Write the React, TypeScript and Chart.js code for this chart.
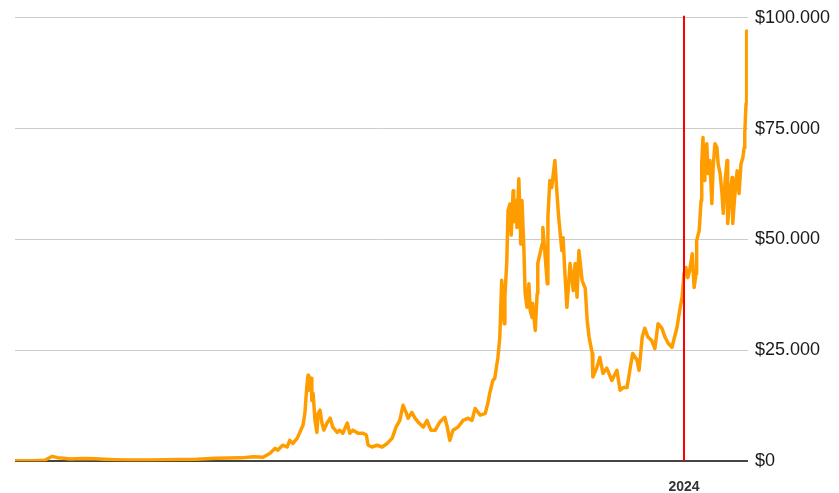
import React, { useEffect, useRef } from "react";
import { Chart, registerables } from "chart.js";

Chart.register(...registerables);

// decimal years
const years: number[] = [
  2013.33, 2013.6, 2013.8, 2013.92, 2014.0, 2014.1, 2014.2, 2014.4, 2014.6, 2014.9,
  2015.1, 2015.5, 2015.9, 2016.2, 2016.5, 2016.9, 2017.1, 2017.25, 2017.36, 2017.44,
  2017.48, 2017.56, 2017.63, 2017.67, 2017.72, 2017.79, 2017.83, 2017.88, 2017.91, 2017.94,
  2017.96, 2017.97, 2018.01, 2018.02, 2018.04, 2018.07, 2018.1, 2018.12, 2018.15, 2018.18,
  2018.21, 2018.26, 2018.31, 2018.35, 2018.42, 2018.46, 2018.51, 2018.58, 2018.62, 2018.67,
  2018.75, 2018.83, 2018.88, 2018.91, 2018.97, 2019.05, 2019.13, 2019.21, 2019.29, 2019.35,
  2019.41, 2019.46, 2019.51, 2019.54, 2019.6, 2019.65, 2019.7, 2019.78, 2019.84, 2019.9,
  2019.97, 2020.04, 2020.12, 2020.16, 2020.2, 2020.25, 2020.33, 2020.41, 2020.49, 2020.55,
  2020.6, 2020.68, 2020.76, 2020.8, 2020.83, 2020.88, 2020.91, 2020.96, 2020.99, 2021.02,
  2021.04, 2021.06, 2021.07, 2021.1, 2021.12, 2021.15, 2021.17, 2021.2, 2021.21, 2021.25,
  2021.26, 2021.29, 2021.31, 2021.32, 2021.34, 2021.37, 2021.39, 2021.42, 2021.45, 2021.47,
  2021.5, 2021.51, 2021.55, 2021.58, 2021.59, 2021.66, 2021.67, 2021.7, 2021.74, 2021.75,
  2021.78, 2021.81, 2021.86, 2021.89, 2021.92, 2021.97, 2021.99, 2022.02, 2022.05, 2022.1,
  2022.15, 2022.18, 2022.21, 2022.24, 2022.29, 2022.34, 2022.37, 2022.4, 2022.45, 2022.46,
  2022.52, 2022.57, 2022.62, 2022.68, 2022.76, 2022.84, 2022.89, 2022.94, 2023.0, 2023.05,
  2023.09, 2023.16, 2023.19, 2023.24, 2023.28, 2023.33, 2023.39, 2023.44, 2023.49, 2023.55,
  2023.6, 2023.65, 2023.71, 2023.79, 2023.84, 2023.87, 2023.9, 2023.93, 2023.96, 2023.99,
  2024.03, 2024.06, 2024.09, 2024.1, 2024.14, 2024.17, 2024.18, 2024.2, 2024.22, 2024.23,
  2024.26, 2024.28, 2024.31, 2024.34, 2024.36, 2024.39, 2024.42, 2024.44, 2024.47, 2024.5,
  2024.52, 2024.55, 2024.58, 2024.59, 2024.63, 2024.66, 2024.67, 2024.7, 2024.74, 2024.77,
  2024.8, 2024.83, 2024.85, 2024.86, 2024.88, 2024.89,
];

// price in US dollars
const prices: number[] = [
  120, 100, 200, 1100, 800, 650, 500, 600, 550, 350,
  250, 270, 400, 420, 650, 750, 1000, 900, 1800, 2900,
  2500, 3600, 3200, 4700, 4000, 5200, 6500, 8100, 10800, 16700,
  19400, 16000, 18700, 13700, 15300, 9200, 6500, 10800, 11500, 8600,
  7000, 8600, 9700, 7700, 6500, 7000, 6300, 8600, 6300, 7000,
  6300, 6300, 5900, 3600, 3200, 3600, 3200, 4000, 5200, 7700,
  9200, 12600, 11000, 9700, 11000, 9700, 8800, 7700, 9200, 7000,
  7000, 8800, 9900, 7700, 4700, 7000, 7700, 9200, 9700, 9200,
  11900, 10400, 10800, 13000, 15300, 18200, 18700, 23400, 28000, 40800,
  34700, 31000, 37000, 45000, 56500, 58000, 51000, 61000, 54000, 58800,
  52700, 63700, 55000, 49000, 58800, 48000, 37800, 34700, 40000, 34000,
  32400, 35600, 29500, 37800, 44600, 49000, 52700, 47500, 40000, 55000,
  63300, 61700, 67800, 61000, 55000, 47500, 50400, 42000, 34700, 44600,
  38500, 44600, 37000, 47500, 40800, 39000, 31800, 28000, 24300, 19000,
  21000, 23400, 19800, 21000, 18200, 20500, 16000, 16600, 16600, 21000,
  24300, 22700, 20500, 28000, 30000, 28000, 27200, 25400, 31000, 30000,
  28000, 26600, 25700, 30200, 34700, 37000, 42300, 43700, 41400, 43000,
  46800, 39200, 42300, 49800, 52000, 58800, 67000, 73000, 63300, 69400,
  71600, 64900, 67800, 58100, 66200, 71600, 70700, 67000, 64900, 60400,
  55900, 63300, 67800, 53600, 60400, 64000, 53600, 59500, 65500, 60400,
  67000, 68500, 70700, 73900, 80600, 97000,
];

const xMin = 2013.33;
const xMax = 2024.91;
const markerYear = 2023.9;
const markerLabel = "2024";
const yMax = 100000;
const yStep = 25000;

const fmt = (v: number) =>
  "$" + String(Math.round(v)).replace(/\B(?=(\d{3})+(?!\d))/g, ".");

const markerPlugin = {
  id: "markerLine",
  afterDatasetsDraw(chart: any) {
    const { ctx, chartArea, scales } = chart;
    const x = Math.round(scales.x.getPixelForValue(markerYear));
    ctx.save();
    ctx.strokeStyle = "#FF0000";
    ctx.lineWidth = 2;
    ctx.beginPath();
    ctx.moveTo(x, chartArea.top - 2);
    ctx.lineTo(x, chartArea.bottom);
    ctx.stroke();
    ctx.restore();
  },
};

export default function App() {
  const ref = useRef<HTMLCanvasElement | null>(null);
  useEffect(() => {
    document.body.style.margin = "0";
    if (!ref.current) return;
    const data = years.map((y, i) => ({ x: y, y: prices[i] }));
    const chart = new Chart(ref.current, {
      type: "line",
      data: {
        datasets: [
          {
            data,
            borderColor: "#FF9D00",
            borderWidth: 3.5,
            pointRadius: 0,
            tension: 0,
            borderJoinStyle: "round",
            borderCapStyle: "round",
            fill: false,
          },
        ],
      },
      options: {
        animation: false,
        responsive: false,
        maintainAspectRatio: false,
        layout: { padding: { left: 15, right: 2, top: 8, bottom: -21 } },
        plugins: { legend: { display: false }, tooltip: { enabled: false } },
        scales: {
          x: {
            type: "linear",
            min: xMin,
            max: xMax,
            grid: { display: false, drawTicks: false },
            border: { display: false },
            afterBuildTicks: (axis: any) => {
              axis.ticks = [{ value: markerYear }];
            },
            ticks: {
              autoSkip: false,
              maxRotation: 0,
              padding: 18,
              color: "#333",
              font: { family: "Liberation Sans, Arial, sans-serif", size: 14, weight: "bold" },
              callback: () => markerLabel,
            },
          },
          y: {
            position: "right",
            min: 0,
            max: yMax,
            border: { display: false },
            grid: {
              drawTicks: false,
              color: (c: any) => (c.tick && c.tick.value === 0 ? "#444" : "#cccccc"),
              lineWidth: (c: any) => (c.tick && c.tick.value === 0 ? 2 : 1),
            },
            ticks: {
              stepSize: yStep,
              padding: 7,
              color: "#1a1a1a",
              font: { family: "'Liberation Sans', Arial, sans-serif", size: 18 },
              callback: (v: any) => fmt(Number(v)),
            },
          },
        },
      },
      plugins: [markerPlugin],
    });
    return () => chart.destroy();
  }, []);
  return (
    <div style={{ width: 839, height: 493, background: "#fff" }}>
      <canvas ref={ref} width={839} height={493} style={{ width: 839, height: 493 }} />
    </div>
  );
}
